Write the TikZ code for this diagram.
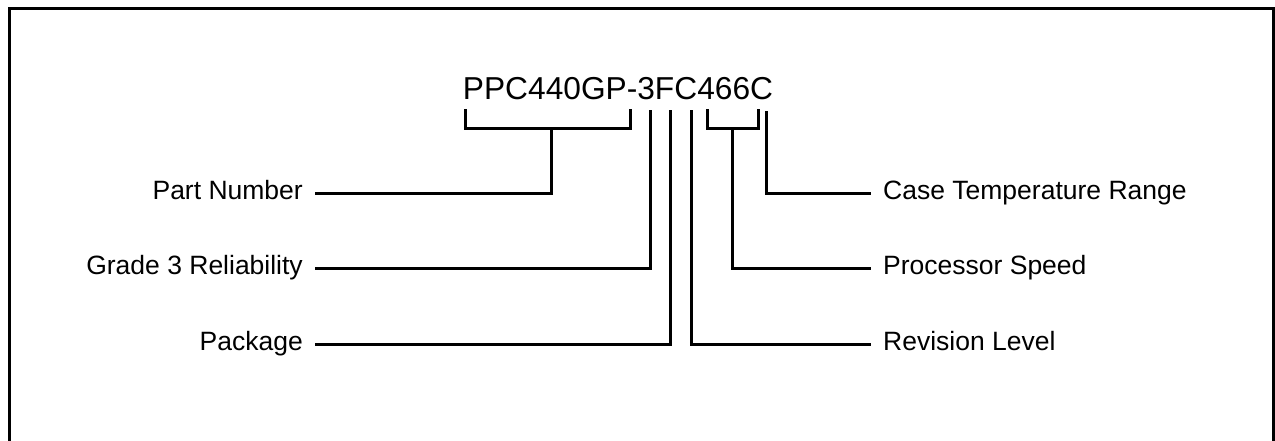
\documentclass[tikz,border=0pt]{standalone}
\usepackage{fontspec}
\setmainfont{Liberation Sans}
\begin{document}
\begin{tikzpicture}[x=1pt,y=-1pt,
  conn/.style={line width=3pt},
  frame/.style={line width=3pt},
  lbl/.style={inner xsep=12pt, inner ysep=0pt, text height=18.5pt, text depth=5pt, font=\fontsize{26.5}{30}\selectfont},
  pnum/.style={inner sep=0pt, font=\fontsize{31.7}{36}\selectfont}
]
\useasboundingbox (0,0) rectangle (1275,440);
\draw[frame] (9.5,441) -- (9.5,8.5) -- (1273.5,8.5) -- (1273.5,441);

\node[pnum, anchor=base] (pn) at (618,99) {PPC440GP-3FC466C};

\node[lbl, anchor=east] (part) at (315,193) {Part Number};
\node[lbl, anchor=east] (grade) at (315,268) {Grade 3 Reliability};
\node[lbl, anchor=east] (pkg) at (315,344) {Package};
\node[lbl, anchor=west] (case) at (871,193) {Case Temperature Range};
\node[lbl, anchor=west] (speed) at (871,268) {Processor Speed};
\node[lbl, anchor=west] (rev) at (871,344) {Revision Level};

% bracket tops
\coordinate (b1l) at (465,109);
\coordinate (b1r) at (630,109);
\coordinate (b1s) at (551,128);
\coordinate (v3) at (650,110);
\coordinate (vF) at (670,110);
\coordinate (vC) at (691,110);
\coordinate (b2l) at (707,109);
\coordinate (b2r) at (758,109);
\coordinate (b2s) at (732,128);
\coordinate (vT) at (766,111);

\draw[conn] (b1l) |- (b1s) -| (b1r);
\draw[conn] (part.east) -| (b1s);
\draw[conn] (grade.east) -| (v3);
\draw[conn] (pkg.east) -| (vF);
\draw[conn] (vC) |- (rev.west);
\draw[conn] (b2l) |- (b2s) -| (b2r);
\draw[conn] (b2s) |- (speed.west);
\draw[conn] (vT) |- (case.west);
\end{tikzpicture}
\end{document}
